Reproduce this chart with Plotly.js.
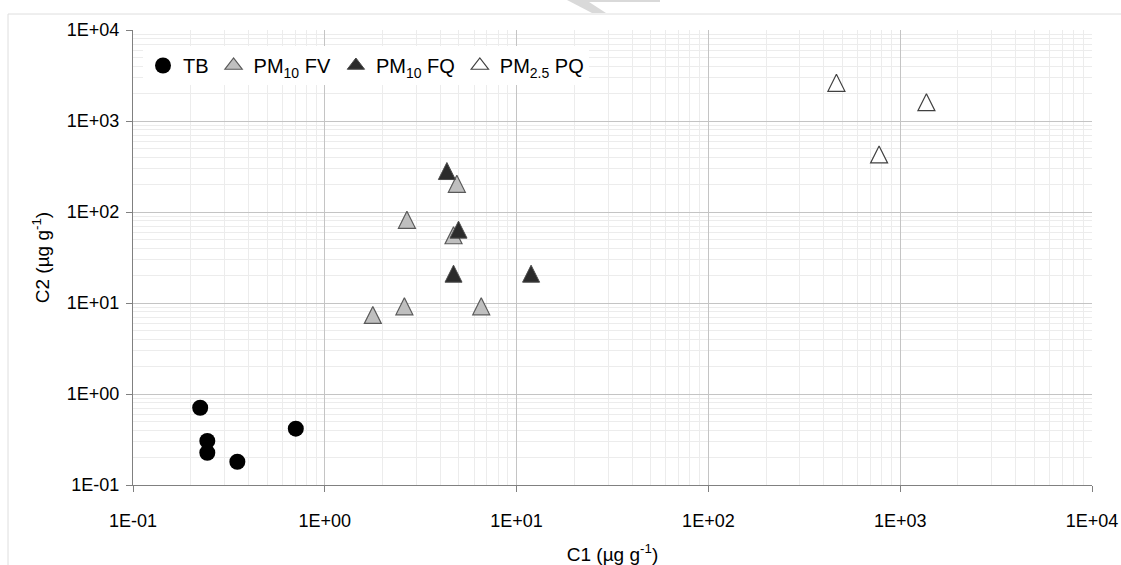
<!DOCTYPE html>
<html>
<head>
<meta charset="utf-8">
<script src="https://cdn.plot.ly/plotly-3.0.1.min.js"></script>
<style>
html,body{margin:0;padding:0;background:#fff;}
#chart{width:1121px;height:565px;}
</style>
</head>
<body>
<div id="chart"></div>
<script>
// ---- data ----
const tbX = [0.224, 0.244, 0.244, 0.350, 0.706];
const tbY = [0.706, 0.305, 0.226, 0.180, 0.416];
const fvX = [4.88, 2.68, 4.69, 1.78, 2.60, 6.54];
const fvY = [204, 82, 55.5, 7.4, 9.2, 9.2];
const fqX = [4.33, 4.98, 4.69, 11.9];
const fqY = [282, 64, 21, 21];
const pqX = [465, 1370, 776];
const pqY = [2630, 1610, 429];
const tickVals = [0.1, 1, 10, 100, 1000, 10000];
const tickText = ['1E-01', '1E+00', '1E+01', '1E+02', '1E+03', '1E+04'];
const seriesNames = ['TB', 'PM<sub>10</sub> FV', 'PM<sub>10</sub> FQ', 'PM<sub>2.5</sub> PQ'];
const xTitle = 'C1 (µg g<sup>-1</sup>)';
const yTitle = 'C2 (µg g<sup>-1</sup>)';

const FONT = 'Liberation Sans, Arial, sans-serif';
const colFV = ['#bfbfbf', '#595959'];
const colFQ = ['#2b2b2b', '#4a4a4a'];
const colPQ = ['#ffffff', '#404040'];

// plotted triangles: equilateral-looking, centred on the point
const tri = (c, lw) => ({
  symbol: 'arrow-down', angle: 180, standoff: 8.5, size: 17,
  color: c[0], line: {color: c[1], width: lw}
});
// legend swatches
const legTri = (c, lw) => ({
  symbol: 'triangle-up', size: 15, color: c[0], line: {color: c[1], width: lw}
});

const traces = [
  {x: tbX, y: tbY, name: seriesNames[0], mode: 'markers', type: 'scatter',
   marker: {symbol: 'circle', size: 16, color: '#000000', line: {width: 0}}},
  {x: fvX, y: fvY, name: seriesNames[1], mode: 'markers', type: 'scatter', showlegend: false,
   legendgroup: 'fv', marker: tri(colFV, 1.2)},
  {x: fqX, y: fqY, name: seriesNames[2], mode: 'markers', type: 'scatter', showlegend: false,
   legendgroup: 'fq', marker: tri(colFQ, 1)},
  {x: pqX, y: pqY, name: seriesNames[3], mode: 'markers', type: 'scatter', showlegend: false,
   legendgroup: 'pq', marker: tri(colPQ, 1.2)},
  // legend entries for the triangle series
  {x: [null], y: [null], name: seriesNames[1], mode: 'markers', type: 'scatter',
   legendgroup: 'fv', marker: legTri(colFV, 1.2)},
  {x: [null], y: [null], name: seriesNames[2], mode: 'markers', type: 'scatter',
   legendgroup: 'fq', marker: legTri(colFQ, 1)},
  {x: [null], y: [null], name: seriesNames[3], mode: 'markers', type: 'scatter',
   legendgroup: 'pq', marker: legTri(colPQ, 1.2)}
];

// plot-area geometry helpers for decorative shapes
const L = 133, T = 30, W = 1121 - 133 - 29, H = 565 - 30 - 80;
const px = x => (x - L) / W;
const py = y => (T + H - y) / H;

const axisCommon = {
  type: 'log', range: [-1, 4],
  tickmode: 'array', tickvals: tickVals, ticktext: tickText,
  ticks: 'outside', ticklen: 6, tickcolor: '#808080', tickwidth: 1,
  showline: true, linecolor: '#808080', linewidth: 1,
  showgrid: true, gridcolor: '#c4c4c4', gridwidth: 1,
  minor: {dtick: 'D1', showgrid: true, gridcolor: '#ececec', gridwidth: 1, ticks: ''},
  zeroline: false,
  tickfont: {family: FONT, size: 18, color: '#000'},
  automargin: false
};

const layout = {
  width: 1121, height: 565,
  margin: {l: L, r: 29, t: T, b: 80},
  paper_bgcolor: '#ffffff', plot_bgcolor: '#ffffff',
  font: {family: FONT, color: '#000'},
  showlegend: true,
  legend: {
    orientation: 'h', x: px(143), y: py(46), xanchor: 'left', yanchor: 'top',
    bgcolor: '#ffffff', borderwidth: 0, traceorder: 'normal',
    font: {family: FONT, size: 20, color: '#000'},
    itemclick: false
  },
  xaxis: Object.assign({}, axisCommon, {
    ticklabelstandoff: 13,
    title: {text: xTitle, font: {family: FONT, size: 19, color: '#000'}, standoff: 20}
  }),
  yaxis: Object.assign({}, axisCommon, {
    ticklabelstandoff: 3,
    title: {text: yTitle, font: {family: FONT, size: 19, color: '#000'}, standoff: 12}
  }),
  shapes: [
    // outer frame (top and left edges visible)
    {type: 'line', xref: 'paper', yref: 'paper', x0: px(8), y0: py(14), x1: px(1125), y1: py(14),
     line: {color: '#dedede', width: 1}},
    {type: 'line', xref: 'paper', yref: 'paper', x0: px(8), y0: py(14), x1: px(8), y1: py(570),
     line: {color: '#dedede', width: 1}},
    // watermark fragment at the top
    {type: 'path', xref: 'paper', yref: 'paper',
     path: 'M' + px(567) + ',' + py(0) + ' L' + px(586) + ',' + py(0) + ' L' + px(606) + ',' + py(13) +
           ' L' + px(592) + ',' + py(13) + ' Z',
     fillcolor: '#d9d9d9', line: {width: 0}},
    {type: 'rect', xref: 'paper', yref: 'paper', x0: px(580), y0: py(0), x1: px(660), y1: py(2),
     fillcolor: '#d9d9d9', line: {width: 0}}
  ]
};

Plotly.newPlot('chart', traces, layout, {displayModeBar: false, staticPlot: true});
</script>
</body>
</html>
